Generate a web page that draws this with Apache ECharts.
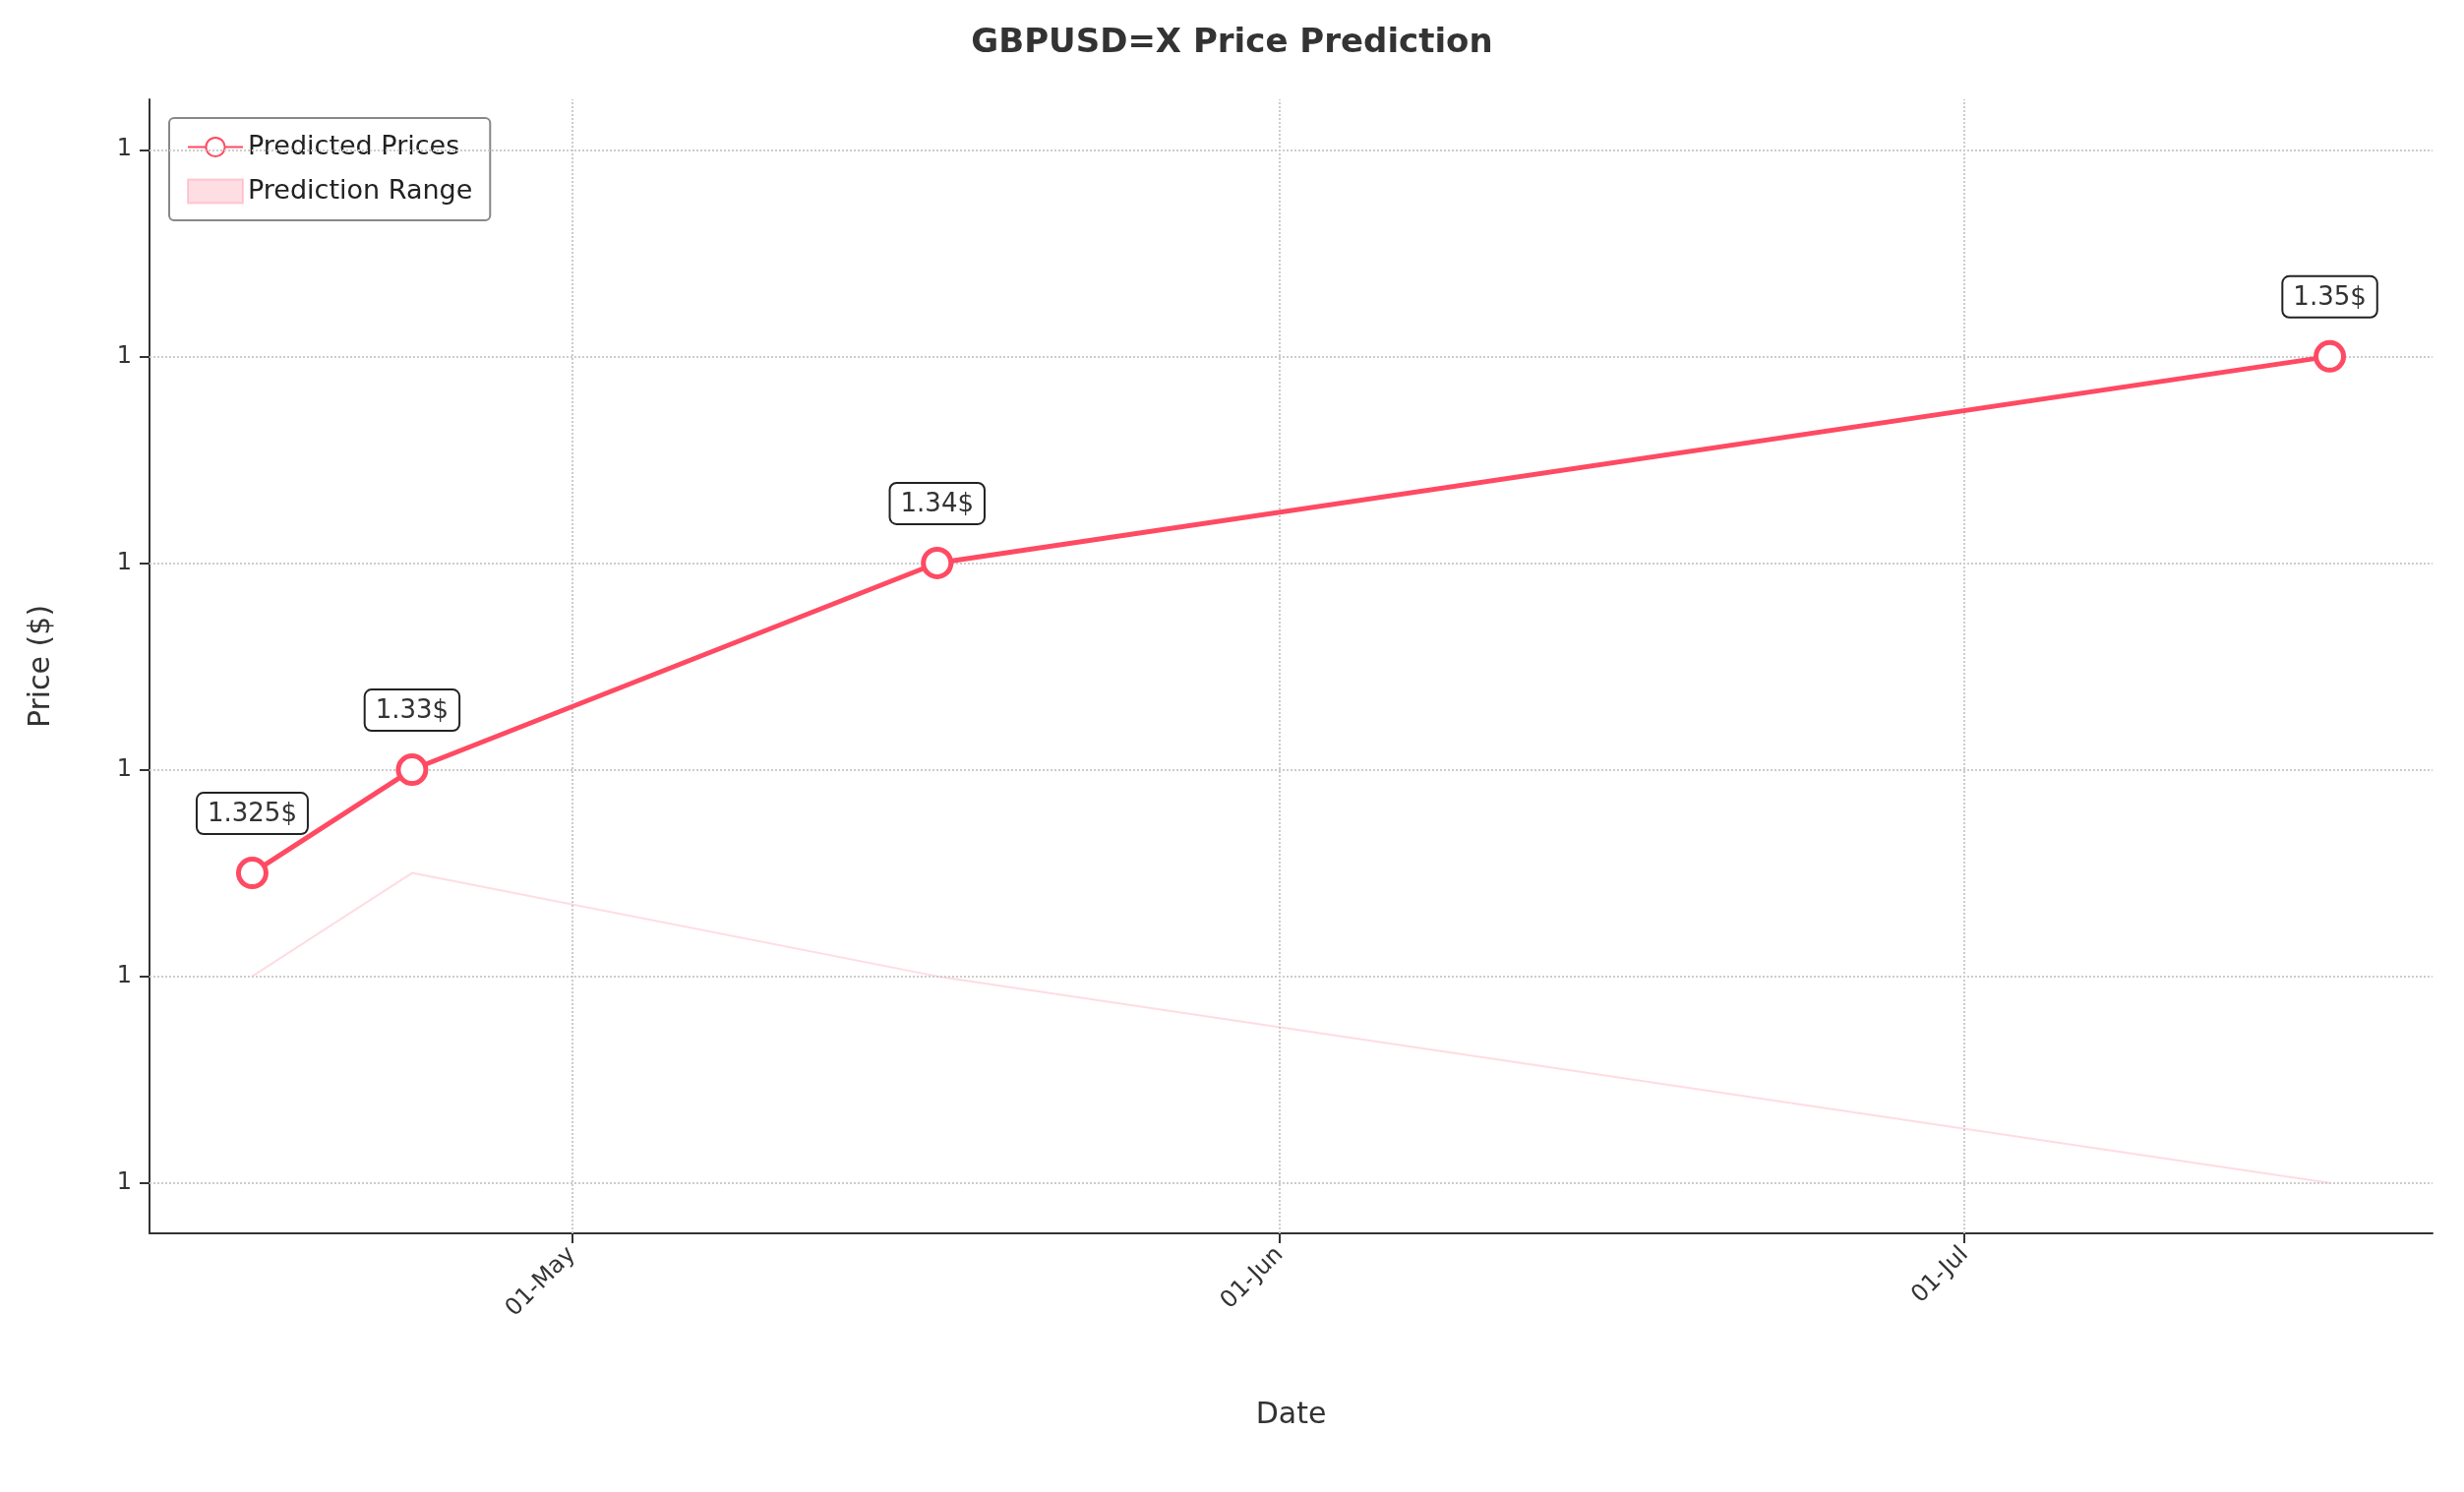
<!DOCTYPE html>
<html><head><meta charset="utf-8">
<script src="https://cdn.jsdelivr.net/npm/echarts@6/dist/echarts.min.js"></script>
<style>html,body{margin:0;background:#fff}#main{width:2505px;height:1517px}</style>
</head><body>
<div id="main"></div>
<script>
var dates = ['2025-04-17', '2025-04-24', '2025-05-17', '2025-07-17'];
var predicted = [1.325, 1.33, 1.34, 1.35];
var lower = [1.32, 1.325, 1.32, 1.31];
var upper = [1.3275, 1.3352, 1.35, 1.36];
var yTicks = [1.31, 1.32, 1.33, 1.34, 1.35, 1.36];
var xTicks = ['2025-05-01', '2025-06-01', '2025-07-01'];
var monthNames = ['Jan','Feb','Mar','Apr','May','Jun','Jul','Aug','Sep','Oct','Nov','Dec'];

function ms(d) { return +new Date(d + 'T00:00:00Z'); }
var chart = echarts.init(document.getElementById('main'));
var font = 'DejaVu Sans';
var xTickMs = xTicks.map(ms);
var dateMs = dates.map(ms);

var option = {
  backgroundColor: '#fff',
  textStyle: { fontFamily: font },
  title: { text: 'GBPUSD=X Price Prediction', left: 'center', top: 22,
    textStyle: { fontSize: 34, fontWeight: 'bold', color: '#333', fontFamily: font } },
  legend: {
    left: 172, top: 120, orient: 'vertical', itemGap: 18, padding: [16, 18, 16, 18],
    borderColor: '#888', borderWidth: 2, borderRadius: 5, backgroundColor: '#fff',
    itemWidth: 56, itemHeight: 24,
    textStyle: { fontSize: 27, color: '#222', fontFamily: font },
    data: [
      { name: 'Predicted Prices' },
      { name: 'Prediction Range', icon: 'rect', itemStyle: { color: 'rgba(255,182,193,0.45)', borderColor: 'rgba(255,140,160,0.4)', borderWidth: 2 } }
    ]
  },
  grid: { left: 152, right: 32, top: 101, bottom: 263 },
  xAxis: {
    type: 'value',
    min: ms('2025-04-12') + 43200000, max: ms('2025-07-21') + 43200000,
    name: 'Date', nameLocation: 'middle', nameGap: 170,
    nameTextStyle: { fontSize: 30, color: '#333' },
    axisLine: { lineStyle: { color: '#333', width: 2 } },
    axisTick: { customValues: xTickMs, length: 10, lineStyle: { color: '#333', width: 2 } },
    axisLabel: { customValues: xTickMs, rotate: 45, fontSize: 24, color: '#333', margin: 18,
      formatter: function (v) { var d = new Date(v); return ('0' + d.getUTCDate()).slice(-2) + '-' + monthNames[d.getUTCMonth()]; } },
    splitLine: { show: false }
  },
  yAxis: {
    type: 'value', min: 1.30756, max: 1.36244,
    name: 'Price ($)', nameLocation: 'middle', nameGap: 95,
    nameTextStyle: { fontSize: 30, color: '#333' },
    axisLine: { show: true, lineStyle: { color: '#333', width: 2 } },
    axisTick: { show: true, customValues: yTicks, length: 10, lineStyle: { color: '#333', width: 2 } },
    axisLabel: { customValues: yTicks, fontSize: 24, color: '#333', margin: 18, formatter: function () { return '1'; } },
    splitLine: { show: false }
  },
  series: [
    { name: 'lowerBase', type: 'line', stack: 'band', symbol: 'none', silent: true,
      data: dateMs.map(function (d, i) { return [d, lower[i]]; }),
      lineStyle: { color: 'rgba(255,140,160,0.3)', width: 2 } },
    { name: 'Prediction Range', type: 'line', stack: 'band', symbol: 'none', silent: true,
      data: dateMs.map(function (d, i) { return [d, +(upper[i] - lower[i]).toFixed(5)]; }),
      lineStyle: { color: 'rgba(255,140,160,0.3)', width: 2 },
      areaStyle: { color: 'rgba(255,182,193,0.42)', opacity: 1 } },
    { name: 'Predicted Prices', type: 'line', z: 5,
      data: dateMs.map(function (d, i) { return [d, predicted[i]]; }),
      lineStyle: { color: '#ff4a63', width: 5 },
      itemStyle: { color: '#fff', borderColor: '#ff4a63', borderWidth: 5 },
      symbol: 'circle', symbolSize: 28,
      label: { show: true, position: 'top', distance: 24, fontSize: 26, color: '#333',
        backgroundColor: '#fff', borderColor: '#222', borderWidth: 2, borderRadius: 6,
        padding: [8, 10, 6, 10],
        formatter: function (p) { return p.value[1] + '$'; } },
      markLine: {
        silent: true, symbol: 'none', label: { show: false },
        lineStyle: { color: '#ccc', type: 'dotted', width: 2 },
        data: yTicks.map(function (v) { return { yAxis: v }; })
          .concat(xTickMs.map(function (v) { return { xAxis: v }; }))
      } }
  ]
};
chart.setOption(option);
</script>
</body></html>
